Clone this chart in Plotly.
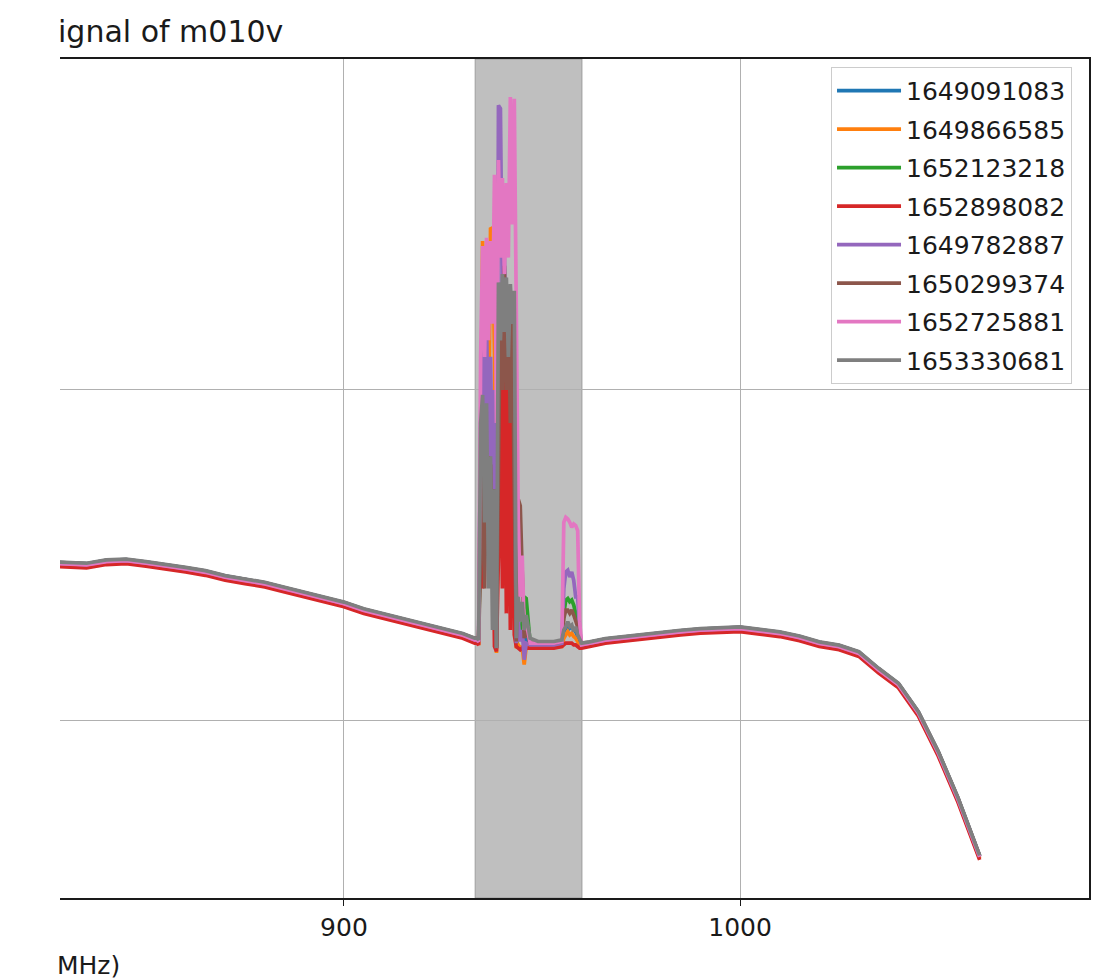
import plotly.graph_objects as go

# ---------------- data ----------------
series_names = ["1649091083", "1649866585", "1652123218", "1652898082",
                "1649782887", "1650299374", "1652725881", "1653330681"]
colors = ["#1f77b4", "#ff7f0e", "#2ca02c", "#d62728",
          "#9467bd", "#8c564b", "#e377c2", "#7f7f7f"]

# shared smooth baseline outside the shaded band (dB)
pre_f = [820, 825, 830, 835, 840, 845, 850, 855, 860, 865, 870, 875, 880,
         885, 890, 895, 900, 905, 910, 915, 920, 925, 930]
pre_v = [-70.4, -70.45, -70.5, -70.55, -70.35, -70.3, -70.45, -70.6, -70.8,
         -71.0, -71.3, -71.5, -71.7, -72.0, -72.3, -72.6, -72.9, -73.3,
         -73.6, -73.9, -74.2, -74.5, -74.8]
post_f = [962, 966, 970, 975, 980, 985, 990, 995, 1000, 1005, 1010, 1015,
          1020, 1025, 1030, 1035, 1040, 1045, 1050, 1055, 1060.5]
post_v = [-75.3, -75.1, -75.0, -74.85, -74.7, -74.6, -74.5, -74.45, -74.4,
          -74.55, -74.7, -74.95, -75.3, -75.5, -75.9, -76.9, -77.8, -79.5,
          -81.9, -84.7, -88.2]
# small per-series level offsets outside the band (dB)
series_offset = [0.05, -0.12, 0.0, -0.2, 0.0, 0.05, -0.02, 0.08]

# shaded band region (MHz)
band_lo, band_hi = 933.1, 960.1

band_f = [933.0, 933.5, 934.0, 934.5, 935.0, 935.5, 936.0, 936.5, 937.0,
          937.5, 938.0, 938.5, 939.0, 939.5, 940.0, 940.5, 941.0, 941.5,
          942.0, 942.5, 943.0, 943.5, 944.0, 944.5, 945.0, 945.5, 946.0,
          947.0, 949.0, 951.0, 953.0, 955.0, 955.5, 956.0, 956.5, 957.0,
          957.5, 958.0, 958.5, 959.0, 959.5, 960.0]

band_blue = [-75.05, -75.05, -75.15, -66.0, -58.0, -66.0, -60.0, -68.0, -62.0,
             -70.0, -64.0, -75.6, -60.0, -64.0, -58.0, -66.0, -60.0, -66.0,
             -62.0, -68.0, -70.0, -75.3, -74.0, -75.0, -74.5, -75.4, -75.0,
             -75.3, -75.3, -75.3, -75.3, -75.3, -74.6, -74.4, -74.2, -74.4,
             -74.3, -74.5, -74.6, -74.9, -75.2, -75.35]
band_orange = [-75.25, -75.25, -75.3, -64.0, -51.0, -62.0, -55.0, -64.0, -50.2,
               -50.3, -58.0, -75.9, -56.0, -66.0, -60.0, -68.0, -62.0, -70.0,
               -63.0, -68.0, -70.0, -75.6, -75.4, -75.6, -75.5, -76.6, -75.5,
               -75.5, -75.5, -75.5, -75.5, -75.5, -75.0, -74.8, -74.6, -74.8,
               -74.7, -74.9, -75.0, -75.2, -75.4, -75.5]
band_green = [-75.1, -75.1, -75.2, -68.0, -60.0, -68.0, -62.0, -70.0, -62.0,
              -70.0, -64.0, -75.5, -58.0, -62.0, -56.0, -64.0, -58.0, -64.0,
              -60.0, -66.0, -68.0, -75.3, -74.5, -75.0, -74.0, -72.5, -72.6,
              -75.3, -75.3, -75.3, -75.3, -75.2, -73.5, -72.7, -72.6, -72.8,
              -72.7, -73.0, -73.5, -74.0, -75.0, -75.35]
band_red = [-75.3, -75.3, -75.4, -66.0, -72.0, -64.5, -70.0, -64.0, -70.5,
            -66.0, -75.5, -75.8, -70.0, -58.5, -72.0, -58.0, -73.5, -58.2,
            -74.5, -60.0, -74.8, -75.5, -75.6, -75.7, -75.6, -75.8, -75.6,
            -75.6, -75.6, -75.6, -75.6, -75.5, -75.4, -75.3, -75.3, -75.3,
            -75.3, -75.4, -75.4, -75.5, -75.6, -75.6]
band_purple = [-75.1, -75.1, -75.2, -62.0, -55.5, -62.0, -56.0, -64.0, -58.0,
               -66.0, -60.0, -75.6, -42.8, -43.0, -55.0, -52.0, -57.0, -54.0,
               -58.0, -56.0, -62.0, -75.3, -74.0, -75.2, -74.5, -76.3, -75.3,
               -75.4, -75.4, -75.4, -75.4, -75.3, -72.0, -71.0, -70.9, -71.3,
               -71.0, -71.5, -72.5, -72.5, -74.5, -75.4]
band_brown = [-75.0, -75.0, -75.1, -70.0, -64.5, -72.0, -64.2, -70.0, -64.5,
              -71.0, -66.0, -75.6, -62.0, -54.0, -60.0, -52.5, -60.0, -54.0,
              -62.0, -56.0, -66.0, -75.2, -66.6, -67.0, -71.0, -75.0, -74.5,
              -75.3, -75.3, -75.3, -75.3, -75.2, -73.8, -73.3, -73.3, -73.5,
              -73.3, -73.6, -74.0, -74.3, -75.0, -75.3]
band_pink = [-75.1, -75.1, -75.2, -58.0, -51.3, -58.0, -50.8, -57.0, -51.0,
             -56.0, -47.0, -62.0, -46.1, -52.0, -47.2, -53.0, -47.5, -52.0,
             -42.3, -50.0, -42.4, -58.0, -67.8, -72.5, -70.0, -74.5, -74.0,
             -75.3, -75.3, -75.3, -75.3, -75.2, -68.0, -67.7, -67.8, -68.0,
             -68.3, -68.1, -68.2, -68.5, -74.0, -75.4]
band_gray = [-75.0, -75.0, -75.1, -62.0, -60.3, -68.0, -60.8, -72.0, -64.0,
             -74.5, -66.0, -75.6, -53.5, -57.0, -53.0, -56.5, -53.2, -58.0,
             -53.6, -56.0, -54.0, -75.0, -72.5, -74.0, -72.8, -74.5, -73.6,
             -75.0, -75.2, -75.2, -75.2, -75.1, -74.5, -74.3, -74.0, -74.3,
             -74.2, -74.6, -74.3, -74.8, -75.0, -75.3]
band_values = [band_blue, band_orange, band_green, band_red,
               band_purple, band_brown, band_pink, band_gray]

title_text = "ignal of m010v"
xlabel_text = "MHz)"
x_ticks = [900, 1000]

# ---------------- figure ----------------
FONT = "DejaVu Sans"
fig = go.Figure()
for name, col, off, bv in zip(series_names, colors, series_offset, band_values):
    xs = pre_f + band_f + post_f
    ys = [v + off for v in pre_v] + bv + [v + off for v in post_v]
    fig.add_trace(go.Scatter(x=xs, y=ys, mode="lines", name=name,
                             legendgroup=name,
                             line=dict(color=col, width=3.7)))

fig.add_shape(type="rect", xref="x", yref="paper", x0=band_lo, x1=band_hi,
              y0=0, y1=1, fillcolor="rgba(128,128,128,0.5)",
              line=dict(color="rgba(128,128,128,0.6)", width=1), layer="below")

fig.add_annotation(text=title_text, xref="paper", yref="paper",
                   x=-0.004, y=1.033, xanchor="left", yanchor="middle",
                   showarrow=False, font=dict(family=FONT, size=30, color="#1a1a1a"))
fig.add_annotation(text=xlabel_text, xref="paper", yref="paper",
                   x=-0.005, y=-0.08, xanchor="left", yanchor="middle",
                   showarrow=False, font=dict(family=FONT, size=25, color="#1a1a1a"))

fig.update_layout(
    width=1107, height=980,
    margin=dict(l=60, r=18, t=59, b=82),
    paper_bgcolor="white", plot_bgcolor="white",
    font=dict(family=FONT, size=25, color="#1a1a1a"),
    showlegend=True,
    legend=dict(x=0.9835, y=0.9905, xanchor="right", yanchor="top",
                bgcolor="rgba(255,255,255,0.85)", bordercolor="#cccccc",
                borderwidth=1, font=dict(family=FONT, size=25, color="#1a1a1a"),
                tracegroupgap=3, itemwidth=64),
    xaxis=dict(range=[828.3, 1088.1], tickvals=x_ticks,
               ticks="outside", ticklen=6, tickwidth=1.3, tickcolor="#1a1a1a",
               showgrid=True, gridcolor="#b0b0b0", gridwidth=1,
               showline=True, mirror=True, linecolor="#1a1a1a", linewidth=1.5,
               zeroline=False, tickfont=dict(size=25)),
    yaxis=dict(range=[-90.7, -40.0], tickvals=[-80, -60, -40],
               side="right", showticklabels=False, ticks="",
               showgrid=True, gridcolor="#b0b0b0", gridwidth=1,
               showline=True, linecolor="#1a1a1a", linewidth=1.5,
               zeroline=False),
)

fig.write_html("out.html")
